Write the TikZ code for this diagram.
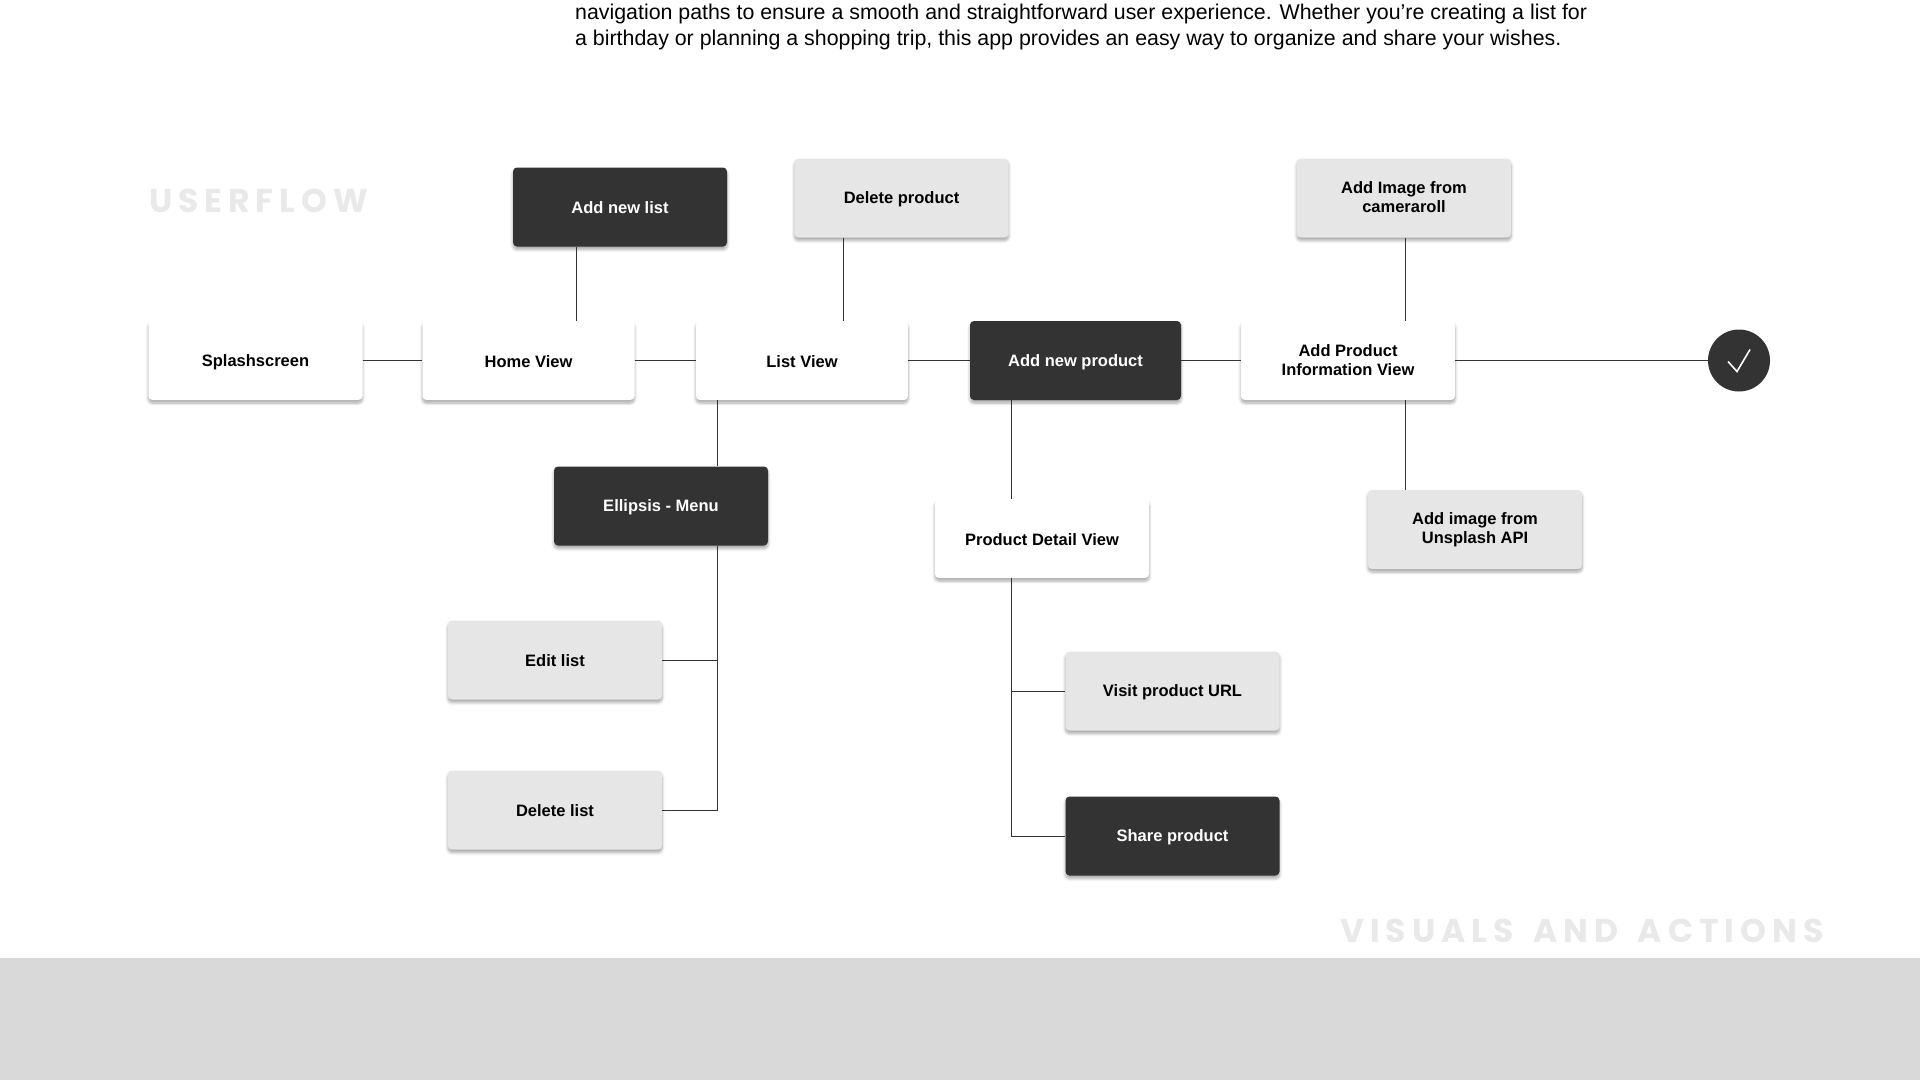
\documentclass[tikz,border=0pt]{standalone}
\usepackage{fontspec}
\setmainfont{Liberation Sans}
\newfontfamily\headfont[LetterSpace=18, WordSpace=1.52]{Poppins}
\usetikzlibrary{arrows.meta, positioning, shadows.blur}
\definecolor{darkbox}{HTML}{333333}
\definecolor{lightbox}{HTML}{E6E6E6}
\definecolor{bandgray}{HTML}{D9D9D9}
\definecolor{headgray}{HTML}{E9E9E9}
\newcommand{\labelstrut}{\rule[-1.4pt]{0pt}{16.4pt}}
\tikzset{
    flowbox/.style={rectangle, rounded corners=4pt, minimum width=214pt, minimum height=79pt,
        align=center, inner sep=0pt, font=\fontsize{16.5}{19}\selectfont\bfseries,
        execute at begin node=\labelstrut, execute at end node=\labelstrut,
        blur shadow={shadow xshift=0pt, shadow yshift=-3pt, shadow blur radius=3pt, shadow blur steps=6, shadow opacity=35}},
    whitebox/.style={flowbox, fill=white, text=black},
    greybox/.style={flowbox, fill=lightbox, text=black},
    darkbox/.style={flowbox, fill=darkbox, text=white},
    headline/.style={anchor=west, inner sep=0pt, text=headgray, font=\fontsize{33}{36}\selectfont\headfont\bfseries},
    link/.style={draw=darkbox, line width=1pt}
}
\begin{document}
\begin{tikzpicture}[x=1pt, y=-1pt]
    \useasboundingbox (0,0) rectangle (1920,1080);
    % band along the bottom
    \fill[bandgray] (0,958) rectangle (1920,1080);
    % intro text and headings
    \node[anchor=base west, inner sep=0pt, font=\fontsize{21.35}{26}\selectfont] (introa) at (575,19)
        {navigation paths to ensure a smooth and straightforward user experience. Whether you're creating a list for};
    \node[anchor=base west, inner sep=0pt, font=\fontsize{21.35}{26}\selectfont] (introb) at (575,45)
        {a birthday or planning a shopping trip, this app provides an easy way to organize and share your wishes.};
    \node[headline] (userflow) at (149,201) {USERFLOW};
    \node[headline] (visuals) at (1340,931) {VISUALS AND ACTIONS};
    % main row
    \node[whitebox] (splash) at (255.5,360.5) {Splashscreen};
    \node[whitebox, minimum width=212pt] (home) at (528.5,360.5) {Home View};
    \node[whitebox, minimum width=212pt] (list) at (802,360.5) {List View};
    \node[darkbox, minimum width=211pt] (addproduct) at (1075.5,360.5) {Add new product};
    \node[whitebox] (info) at (1348,360.5) {Add Product\\Information View};
    \node[circle, fill=darkbox, minimum size=62pt, inner sep=0pt] (done) at (1739,360.5) {};
    % boxes above the row
    \node[darkbox] (addlist) at (620,207) {Add new list};
    \node[greybox] (delproduct) at (901.5,198) {Delete product};
    \node[greybox] (camera) at (1404,198) {Add Image from\\cameraroll};
    % boxes below the row
    \node[darkbox] (menu) at (661,506) {Ellipsis - Menu};
    \node[greybox] (editlist) at (555,660) {Edit list};
    \node[greybox] (dellist) at (555,810) {Delete list};
    \node[whitebox] (detail) at (1042,538.5) {Product Detail View};
    \node[greybox] (unsplash) at (1475,529.5) {Add image from\\Unsplash API};
    \node[greybox] (visit) at (1172.5,691) {Visit product URL};
    \node[darkbox] (share) at (1172.5,836) {Share product};
    % tick inside the last circle
    \draw[white, line width=1.6pt] ([shift={(-11,1)}]done.center) -- ([shift={(-2,11)}]done.center) -- ([shift={(11,-11)}]done.center);
    % links along the row
    \draw[link] (splash) -- (home);
    \draw[link] (home) -- (list);
    \draw[link] (list) -- (addproduct);
    \draw[link] (addproduct) -- (info);
    \draw[link] (info.east) -- (done.west);
    % links up and down
    \draw[link] ([xshift=-43.5pt]addlist.south) -- ([xshift=48pt]home.north);
    \draw[link] ([xshift=-58pt]delproduct.south) -- ([xshift=41.5pt]list.north);
    \draw[link] ([xshift=1.5pt]camera.south) -- ([xshift=57.5pt]info.north);
    \draw[link] ([xshift=-84.5pt]list.south) -- ([xshift=56.5pt]menu.north);
    \draw[link] ([xshift=56.5pt]menu.south) |- (editlist.east);
    \draw[link] ([xshift=56.5pt]menu.south) |- (dellist.east);
    \draw[link] ([xshift=-64pt]addproduct.south) -- ([xshift=-30.5pt]detail.north);
    \draw[link] ([xshift=-30.5pt]detail.south) |- (visit.west);
    \draw[link] ([xshift=-30.5pt]detail.south) |- (share.west);
    \draw[link] ([xshift=57.5pt]info.south) -- ([xshift=-69.5pt]unsplash.north);
\end{tikzpicture}
\end{document}
